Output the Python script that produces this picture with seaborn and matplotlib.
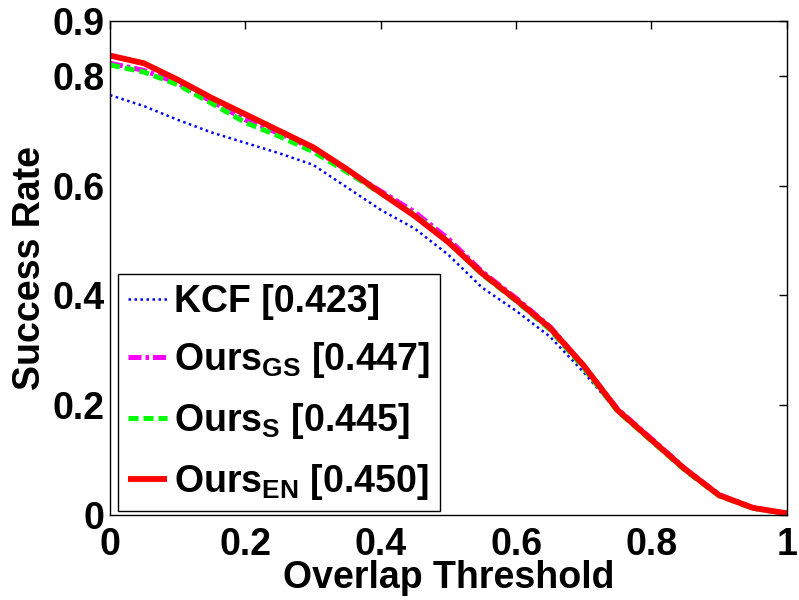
import matplotlib
matplotlib.use("Agg")
import matplotlib.pyplot as plt
import seaborn as sns
import pandas as pd

# ------------------------------------------------------------
# DATA
# ------------------------------------------------------------
thresholds = [0.00, 0.05, 0.10, 0.15, 0.20, 0.25, 0.30, 0.35, 0.40, 0.45, 0.50,
              0.55, 0.60, 0.65, 0.70, 0.75, 0.80, 0.85, 0.90, 0.95, 1.00]

kcf = [0.765, 0.745, 0.720, 0.697, 0.678, 0.659, 0.638, 0.597, 0.556, 0.522, 0.474,
       0.414, 0.372, 0.325, 0.260, 0.188, 0.137, 0.082, 0.036, 0.013, 0.003]
ours_gs = [0.823, 0.810, 0.787, 0.754, 0.720, 0.695, 0.668, 0.628, 0.590, 0.552, 0.503,
           0.443, 0.395, 0.343, 0.272, 0.193, 0.139, 0.084, 0.037, 0.013, 0.003]
ours_s = [0.820, 0.807, 0.784, 0.750, 0.715, 0.690, 0.662, 0.625, 0.586, 0.547, 0.498,
          0.438, 0.390, 0.338, 0.268, 0.189, 0.135, 0.081, 0.035, 0.012, 0.003]
ours_en = [0.837, 0.823, 0.793, 0.760, 0.730, 0.700, 0.670, 0.630, 0.587, 0.545, 0.497,
           0.440, 0.392, 0.341, 0.272, 0.191, 0.137, 0.083, 0.036, 0.013, 0.003]

labels = ["KCF [0.423]",
          r"Ours$_{\mathrm{GS}}$ [0.447]",
          r"Ours$_{\mathrm{S}}$ [0.445]",
          r"Ours$_{\mathrm{EN}}$ [0.450]"]

xticks = [0, 0.2, 0.4, 0.6, 0.8, 1]
xticklabels = ["0", "0.2", "0.4", "0.6", "0.8", "1"]
yticks = [0, 0.2, 0.4, 0.6, 0.8, 0.9]
yticklabels = ["0", "0.2", "0.4", "0.6", "0.8", "0.9"]

# ------------------------------------------------------------
# SETUP
# ------------------------------------------------------------
sns.set_style("white")
plt.rcParams["font.family"] = ["Liberation Sans", "DejaVu Sans"]
plt.rcParams["font.weight"] = "bold"
plt.rcParams["mathtext.fontset"] = "custom"
plt.rcParams["mathtext.rm"] = "Liberation Sans:bold"
plt.rcParams["mathtext.it"] = "Liberation Sans:bold"
plt.rcParams["mathtext.bf"] = "Liberation Sans:bold"
plt.rcParams["text.color"] = "black"
plt.rcParams["axes.labelcolor"] = "black"

FS = 27
styles = [
    dict(color="#0000FF", lw=1.8, dashes=(1, 1.4)),
    dict(color="#FF00FF", lw=3.6, dashes=(2.6, 0.8, 0.7, 0.8)),
    dict(color="#00FF00", lw=3.6, dashes=(2.0, 1.0)),
    dict(color="#FF0000", lw=4.2, dashes=None),
]

df = pd.DataFrame({"thr": thresholds, "kcf": kcf, "gs": ours_gs,
                   "s": ours_s, "en": ours_en})

fig = plt.figure(figsize=(7.99, 6.0), dpi=100)
ax = fig.add_axes([0.1377, 0.1417, 0.847, 0.8233])

for col, lab, st in zip(["kcf", "gs", "s", "en"], labels, styles):
    kw = dict(color=st["color"], linewidth=st["lw"], label=lab)
    line = sns.lineplot(data=df, x="thr", y=col, ax=ax, **kw).lines[-1]
    if st["dashes"] is not None:
        line.set_dashes(st["dashes"])
    line.set_solid_capstyle("butt")

ax.set_xlim(0, 1)
ax.set_ylim(0, 0.9)
ax.set_xticks(xticks)
ax.set_xticklabels(xticklabels)
ax.set_yticks(yticks)
ax.set_yticklabels(yticklabels)
ax.tick_params(direction="in", length=6, width=1, top=True, right=True,
               labelsize=FS, colors="black")
ax.tick_params(axis="x", pad=8.5)
ax.tick_params(axis="y", pad=4)
for sp in ax.spines.values():
    sp.set_visible(True)
    sp.set_color("black")
    sp.set_linewidth(1)

ax.set_xlabel("Overlap Threshold", fontsize=FS, fontweight="bold", labelpad=-2)
ax.set_ylabel("Success Rate", fontsize=FS, fontweight="bold", labelpad=3)

leg = ax.legend(loc="lower left", bbox_to_anchor=(0.012, 0.008), borderaxespad=0,
                fontsize=FS, frameon=True, fancybox=False, framealpha=1,
                edgecolor="black", handlelength=1.05, handletextpad=0.2,
                labelspacing=0.55, borderpad=0.25)
leg.get_frame().set_linewidth(1)

plt.savefig("out.png", dpi=100)
plt.close()
